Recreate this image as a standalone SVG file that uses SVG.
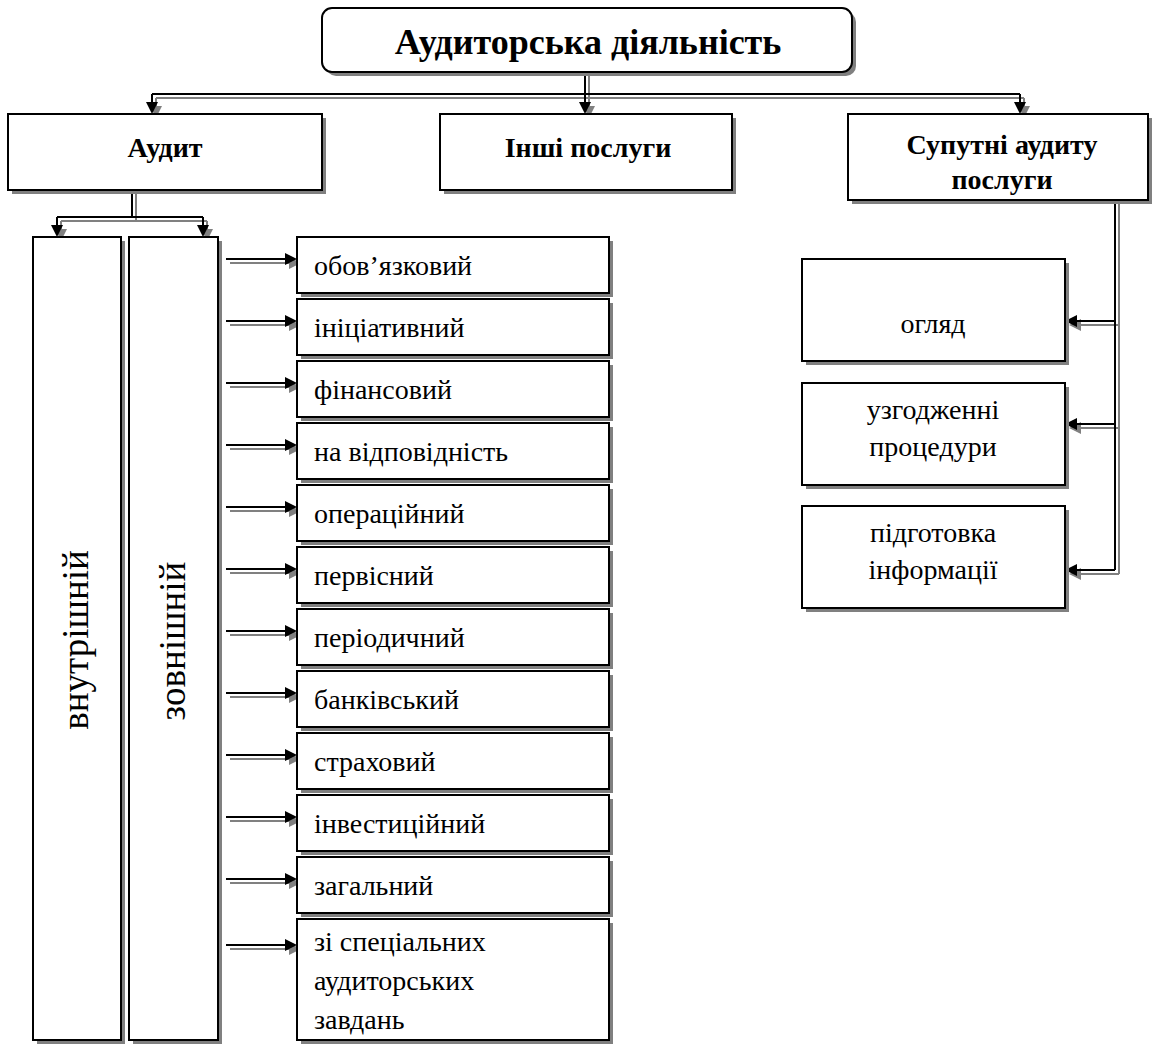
<svg xmlns="http://www.w3.org/2000/svg" width="1155" height="1046" viewBox="0 0 1155 1046" xml:lang="uk" lang="uk">
<defs>
<marker id="ah" markerUnits="userSpaceOnUse" markerWidth="13" markerHeight="13" refX="4" refY="6" orient="auto">
<path d="M0,0 L12,6 L0,12 z" fill="#000"/>
</marker>
<marker id="ahg" markerUnits="userSpaceOnUse" markerWidth="13" markerHeight="13" refX="4" refY="6" orient="auto">
<path d="M0,0 L12,6 L0,12 z" fill="#808080"/>
</marker>
</defs>
<rect width="1155" height="1046" fill="#fff"/>

<g id="connectors">
<g transform="translate(4,4)" fill="none" stroke="#808080" stroke-width="2">
<path d="M152 94 H1020"/>
<path d="M585 72 V106" marker-end="url(#ahg)"/>
<path d="M152 94 V106" marker-end="url(#ahg)"/>
<path d="M1020 94 V106" marker-end="url(#ahg)"/>
<path d="M132 190 V217 M57 217 H203"/>
<path d="M57 217 V229" marker-end="url(#ahg)"/>
<path d="M203 217 V229" marker-end="url(#ahg)"/>
<path d="M226 259 H289" marker-end="url(#ahg)"/>
<path d="M226 321 H289" marker-end="url(#ahg)"/>
<path d="M226 383 H289" marker-end="url(#ahg)"/>
<path d="M226 445 H289" marker-end="url(#ahg)"/>
<path d="M226 507 H289" marker-end="url(#ahg)"/>
<path d="M226 569 H289" marker-end="url(#ahg)"/>
<path d="M226 631 H289" marker-end="url(#ahg)"/>
<path d="M226 693 H289" marker-end="url(#ahg)"/>
<path d="M226 755 H289" marker-end="url(#ahg)"/>
<path d="M226 817 H289" marker-end="url(#ahg)"/>
<path d="M226 879 H289" marker-end="url(#ahg)"/>
<path d="M226 945 H289" marker-end="url(#ahg)"/>
<path d="M1115 200 V570"/>
<path d="M1115 321 H1073" marker-end="url(#ahg)"/>
<path d="M1115 424 H1073" marker-end="url(#ahg)"/>
<path d="M1115 570 H1073" marker-end="url(#ahg)"/>
</g>
<g fill="none" stroke="#000" stroke-width="2">
<path d="M152 94 H1020"/>
<path d="M585 72 V106" marker-end="url(#ah)"/>
<path d="M152 94 V106" marker-end="url(#ah)"/>
<path d="M1020 94 V106" marker-end="url(#ah)"/>
<path d="M132 190 V217 M57 217 H203"/>
<path d="M57 217 V229" marker-end="url(#ah)"/>
<path d="M203 217 V229" marker-end="url(#ah)"/>
<path d="M226 259 H289" marker-end="url(#ah)"/>
<path d="M226 321 H289" marker-end="url(#ah)"/>
<path d="M226 383 H289" marker-end="url(#ah)"/>
<path d="M226 445 H289" marker-end="url(#ah)"/>
<path d="M226 507 H289" marker-end="url(#ah)"/>
<path d="M226 569 H289" marker-end="url(#ah)"/>
<path d="M226 631 H289" marker-end="url(#ah)"/>
<path d="M226 693 H289" marker-end="url(#ah)"/>
<path d="M226 755 H289" marker-end="url(#ah)"/>
<path d="M226 817 H289" marker-end="url(#ah)"/>
<path d="M226 879 H289" marker-end="url(#ah)"/>
<path d="M226 945 H289" marker-end="url(#ah)"/>
<path d="M1115 200 V570"/>
<path d="M1115 321 H1073" marker-end="url(#ah)"/>
<path d="M1115 424 H1073" marker-end="url(#ah)"/>
<path d="M1115 570 H1073" marker-end="url(#ah)"/>
</g>
</g>

<g id="n-title">
<rect x="326" y="12" width="530" height="64" rx="10" fill="#808080"/>
<rect x="322" y="8" width="530" height="64" rx="10" fill="#fff" stroke="#000" stroke-width="2"/>
<text x="588" y="54" text-anchor="middle" font-family="Times New Roman" font-size="36" font-weight="bold">Аудиторська діяльність</text>
</g>
<g id="n-audit">
<rect x="12" y="118" width="314" height="76" fill="#808080"/>
<rect x="8" y="114" width="314" height="76" fill="#fff" stroke="#000" stroke-width="2"/>
<text x="165" y="157" text-anchor="middle" font-family="Times New Roman" font-size="28" font-weight="bold">Аудит</text>
</g>
<g id="n-inshi">
<rect x="444" y="118" width="292" height="76" fill="#808080"/>
<rect x="440" y="114" width="292" height="76" fill="#fff" stroke="#000" stroke-width="2"/>
<text x="588" y="157" text-anchor="middle" font-family="Times New Roman" font-size="28" font-weight="bold">Інші послуги</text>
</g>
<g id="n-suputni">
<rect x="852" y="118" width="300" height="86" fill="#808080"/>
<rect x="848" y="114" width="300" height="86" fill="#fff" stroke="#000" stroke-width="2"/>
<text x="1002" y="154" text-anchor="middle" font-family="Times New Roman" font-size="28" font-weight="bold">Супутні аудиту</text>
<text x="1002" y="189" text-anchor="middle" font-family="Times New Roman" font-size="28" font-weight="bold">послуги</text>
</g>
<g id="n-vnutr">
<rect x="37" y="241" width="88" height="803" fill="#808080"/>
<rect x="33" y="237" width="88" height="803" fill="#fff" stroke="#000" stroke-width="2"/>
<text transform="translate(88,640) rotate(-90)" text-anchor="middle" font-family="Times New Roman" font-size="37">внутрішній</text>
</g>
<g id="n-zovn">
<rect x="133" y="241" width="89" height="803" fill="#808080"/>
<rect x="129" y="237" width="89" height="803" fill="#fff" stroke="#000" stroke-width="2"/>
<text transform="translate(185,641) rotate(-90)" text-anchor="middle" font-family="Times New Roman" font-size="37">зовнішній</text>
</g>

<g id="n-l1"><rect x="301" y="241" width="312" height="56" fill="#808080"/><rect x="297" y="237" width="312" height="56" fill="#fff" stroke="#000" stroke-width="2"/><text x="314" y="275" font-family="Times New Roman" font-size="28">обов’язковий</text></g>
<g id="n-l2"><rect x="301" y="303" width="312" height="56" fill="#808080"/><rect x="297" y="299" width="312" height="56" fill="#fff" stroke="#000" stroke-width="2"/><text x="314" y="337" font-family="Times New Roman" font-size="28">ініціативний</text></g>
<g id="n-l3"><rect x="301" y="365" width="312" height="56" fill="#808080"/><rect x="297" y="361" width="312" height="56" fill="#fff" stroke="#000" stroke-width="2"/><text x="314" y="399" font-family="Times New Roman" font-size="28">фінансовий</text></g>
<g id="n-l4"><rect x="301" y="427" width="312" height="56" fill="#808080"/><rect x="297" y="423" width="312" height="56" fill="#fff" stroke="#000" stroke-width="2"/><text x="314" y="461" font-family="Times New Roman" font-size="28">на відповідність</text></g>
<g id="n-l5"><rect x="301" y="489" width="312" height="56" fill="#808080"/><rect x="297" y="485" width="312" height="56" fill="#fff" stroke="#000" stroke-width="2"/><text x="314" y="523" font-family="Times New Roman" font-size="28">операційний</text></g>
<g id="n-l6"><rect x="301" y="551" width="312" height="56" fill="#808080"/><rect x="297" y="547" width="312" height="56" fill="#fff" stroke="#000" stroke-width="2"/><text x="314" y="585" font-family="Times New Roman" font-size="28">первісний</text></g>
<g id="n-l7"><rect x="301" y="613" width="312" height="56" fill="#808080"/><rect x="297" y="609" width="312" height="56" fill="#fff" stroke="#000" stroke-width="2"/><text x="314" y="647" font-family="Times New Roman" font-size="28">періодичний</text></g>
<g id="n-l8"><rect x="301" y="675" width="312" height="56" fill="#808080"/><rect x="297" y="671" width="312" height="56" fill="#fff" stroke="#000" stroke-width="2"/><text x="314" y="709" font-family="Times New Roman" font-size="28">банківський</text></g>
<g id="n-l9"><rect x="301" y="737" width="312" height="56" fill="#808080"/><rect x="297" y="733" width="312" height="56" fill="#fff" stroke="#000" stroke-width="2"/><text x="314" y="771" font-family="Times New Roman" font-size="28">страховий</text></g>
<g id="n-l10"><rect x="301" y="799" width="312" height="56" fill="#808080"/><rect x="297" y="795" width="312" height="56" fill="#fff" stroke="#000" stroke-width="2"/><text x="314" y="833" font-family="Times New Roman" font-size="28">інвестиційний</text></g>
<g id="n-l11"><rect x="301" y="861" width="312" height="56" fill="#808080"/><rect x="297" y="857" width="312" height="56" fill="#fff" stroke="#000" stroke-width="2"/><text x="314" y="895" font-family="Times New Roman" font-size="28">загальний</text></g>
<g id="n-l12"><rect x="301" y="923" width="312" height="121" fill="#808080"/><rect x="297" y="919" width="312" height="121" fill="#fff" stroke="#000" stroke-width="2"/>
<text x="314" y="951" font-family="Times New Roman" font-size="28">зі спеціальних</text>
<text x="314" y="990" font-family="Times New Roman" font-size="28">аудиторських</text>
<text x="314" y="1029" font-family="Times New Roman" font-size="28">завдань</text></g>
<g id="n-ogl"><rect x="806" y="263" width="263" height="102" fill="#808080"/><rect x="802" y="259" width="263" height="102" fill="#fff" stroke="#000" stroke-width="2"/><text x="933" y="333" text-anchor="middle" font-family="Times New Roman" font-size="28">огляд</text></g>
<g id="n-uzg"><rect x="806" y="387" width="263" height="102" fill="#808080"/><rect x="802" y="383" width="263" height="102" fill="#fff" stroke="#000" stroke-width="2"/><text x="933" y="419" text-anchor="middle" font-family="Times New Roman" font-size="28">узгодженні</text><text x="933" y="456" text-anchor="middle" font-family="Times New Roman" font-size="28">процедури</text></g>
<g id="n-pidg"><rect x="806" y="510" width="263" height="102" fill="#808080"/><rect x="802" y="506" width="263" height="102" fill="#fff" stroke="#000" stroke-width="2"/><text x="933" y="542" text-anchor="middle" font-family="Times New Roman" font-size="28">підготовка</text><text x="933" y="579" text-anchor="middle" font-family="Times New Roman" font-size="28">інформації</text></g>
</svg>
